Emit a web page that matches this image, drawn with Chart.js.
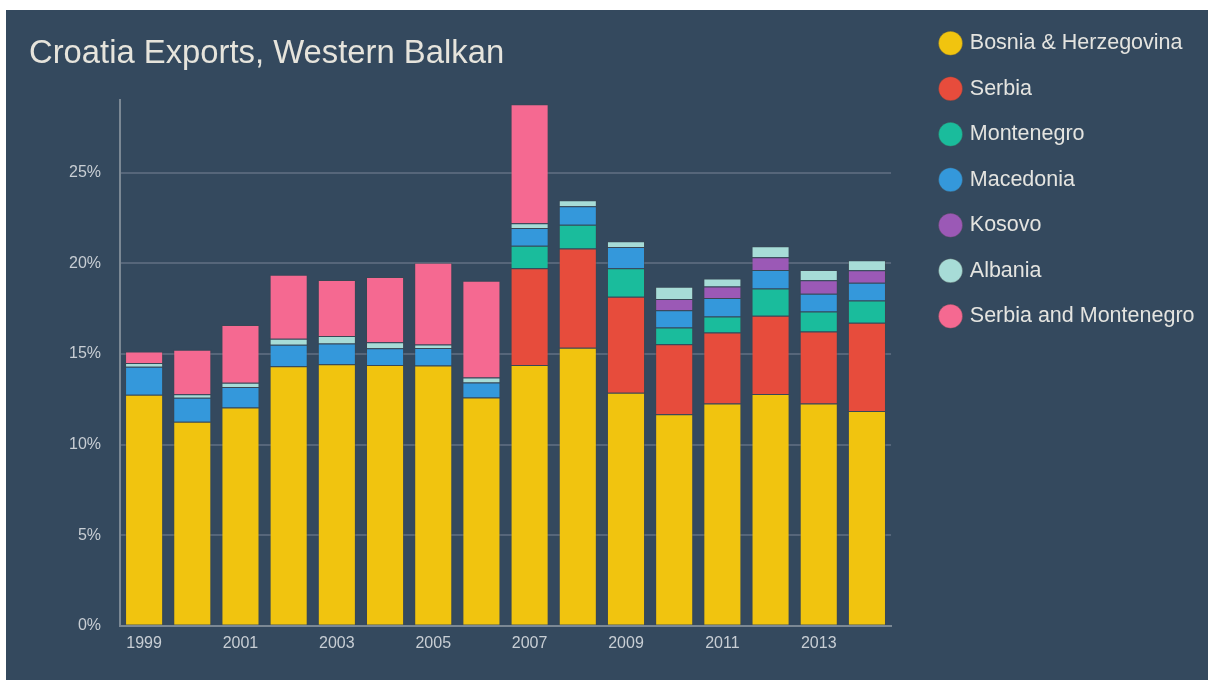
<!DOCTYPE html>
<html>
<head>
<meta charset="utf-8">
<script src="https://cdn.jsdelivr.net/npm/chart.js@4"></script>
<style>
  html, body { margin: 0; padding: 0; background: #ffffff; overflow: hidden; }
  #card { position: absolute; left: 6px; top: 10px; width: 1202px; height: 670px; background: #34495e; }
  #chart { position: absolute; left: 0; top: 0; }
</style>
</head>
<body>
<div id="card"></div>
<canvas id="chart" width="1208" height="680"></canvas>
<script>
// Anteil an Kroatiens Exporten (%), 1999-2014
const years = ['1999', '2000', '2001', '2002', '2003', '2004', '2005', '2006',
               '2007', '2008', '2009', '2010', '2011', '2012', '2013', '2014'];

const bosnia     = [12.75, 11.26, 12.05, 14.33, 14.44, 14.40, 14.37, 12.60, 14.40, 15.34, 12.86, 11.68, 12.27, 12.79, 12.27, 11.85];
const serbia     = [null, null, null, null, null, null, null, null, 5.34, 5.48, 5.30, 3.86, 3.92, 4.32, 3.97, 4.87];
const montenegro = [null, null, null, null, null, null, null, null, 1.23, 1.32, 1.58, 0.92, 0.88, 1.51, 1.10, 1.23];
const macedonia  = [1.55, 1.32, 1.13, 1.18, 1.14, 0.92, 0.96, 0.83, 0.99, 1.02, 1.16, 0.96, 1.02, 1.02, 0.99, 0.98];
const kosovo     = [null, null, null, null, null, null, null, null, null, null, null, 0.61, 0.64, 0.70, 0.74, 0.70];
const albania    = [0.20, 0.20, 0.24, 0.33, 0.41, 0.33, 0.20, 0.28, 0.26, 0.33, 0.33, 0.68, 0.44, 0.61, 0.57, 0.55];
const serbiaMont = [0.64, 2.45, 3.18, 3.53, 3.09, 3.60, 4.51, 5.34, 6.57, null, null, null, null, null, null, null];

const yTicks = [0, 5, 10, 15, 20, 25];

const series = [
    { label: 'Bosnia & Herzegovina', data: bosnia, color: '#f1c40f' },
    { label: 'Serbia', data: serbia, color: '#e74c3c' },
    { label: 'Montenegro', data: montenegro, color: '#1abc9c' },
    { label: 'Macedonia', data: macedonia, color: '#3498db' },
    { label: 'Kosovo', data: kosovo, color: '#9b59b6' },
    { label: 'Albania', data: albania, color: '#a7dcd7' },
    { label: 'Serbia and Montenegro', data: serbiaMont, color: '#f56991' },
];

const tickColor = '#c8ced4';
const fontFamily = '"Liberation Sans", Arial, sans-serif';

new Chart(document.getElementById('chart'), {
    type: 'bar',
    data: {
        labels: years,
        datasets: series.map(s => ({
            label: s.label,
            data: s.data,
            backgroundColor: s.color,
            borderColor: 'rgba(70, 70, 70, 0.35)',
            borderWidth: 1,
            barPercentage: 0.79,
            categoryPercentage: 1.0
        }))
    },
    options: {
        responsive: false,
        animation: false,
        layout: {
            padding: { top: 8.5, left: 29, right: 3.5, bottom: 19 }
        },
        scales: {
            x: {
                stacked: true,
                grid: { display: false, drawTicks: false },
                border: { display: true, color: '#7b8894', width: 2 },
                ticks: {
                    color: tickColor,
                    font: { family: fontFamily, size: 16 },
                    padding: 8,
                    autoSkip: false,
                    maxRotation: 0,
                    callback: function (value, index) {
                        return index % 2 === 0 ? years[index] : '';
                    }
                }
            },
            y: {
                stacked: true,
                min: 0,
                max: 29,
                afterFit: scale => { scale.width = 91; },
                afterBuildTicks: scale => { scale.ticks = yTicks.map(v => ({ value: v })); },
                grid: { color: '#56667a', lineWidth: 2, drawTicks: false },
                border: { display: true, color: '#7b8894', width: 2 },
                ticks: {
                    color: tickColor,
                    font: { family: fontFamily, size: 16 },
                    padding: 19,
                    callback: v => v + '%'
                }
            },
            // leerer Abstand zwischen Plotfläche und Legende
            gap: {
                type: 'linear',
                position: 'right',
                display: true,
                grid: { display: false, drawTicks: false },
                border: { display: false },
                ticks: { display: false },
                afterFit: scale => { scale.width = 27; }
            }
        },
        plugins: {
            title: {
                display: true,
                text: 'Croatia Exports, Western Balkan',
                align: 'start',
                color: '#e6e4dc',
                font: { family: fontFamily, size: 32.8, weight: 'normal' },
                padding: { top: 26, bottom: 26.5 }
            },
            legend: {
                display: true,
                position: 'right',
                align: 'start',
                maxWidth: 400,
                labels: {
                    color: '#e4e4e0',
                    font: { family: fontFamily, size: 21.5 },
                    usePointStyle: true,
                    pointStyle: 'circle',
                    boxWidth: 17,
                    boxHeight: 17,
                    padding: 24
                }
            },
            tooltip: { enabled: false }
        }
    }
});
</script>
</body>
</html>
